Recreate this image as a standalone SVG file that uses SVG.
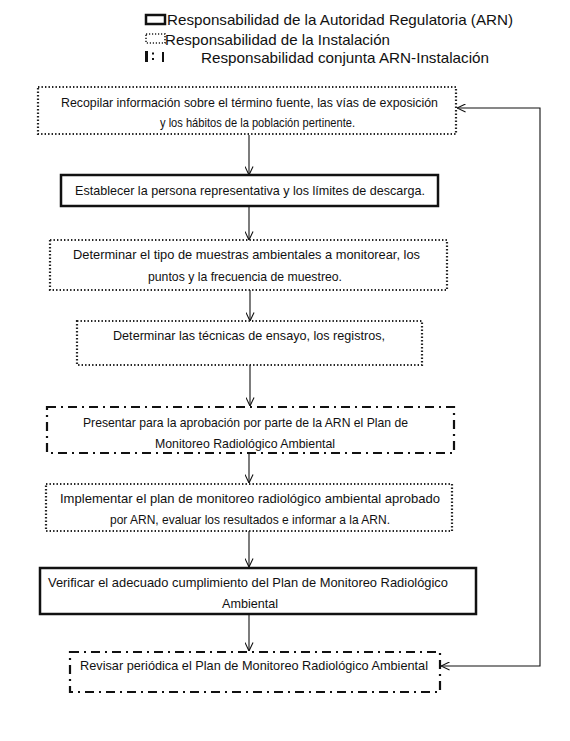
<svg xmlns="http://www.w3.org/2000/svg" width="570" height="741" viewBox="0 0 570 741">
<style>
text{font-family:"Liberation Sans",Arial,sans-serif;fill:#111}
.leg{font-size:14.5px}
.t{font-size:13.5px;text-anchor:start}
.solid{fill:#fff;stroke:#111;stroke-width:2.5}
.dot{fill:#fff;stroke:#222;stroke-width:2.2;stroke-dasharray:1.4 2.1}
.dd{fill:#fff;stroke:#111;stroke-width:2.2;stroke-dasharray:9 5 2 5}
.con{fill:none;stroke:#111;stroke-width:1.1}
</style>
<defs>
<marker id="ah" viewBox="0 0 10 10" refX="9.5" refY="5" markerWidth="9" markerHeight="9" orient="auto" markerUnits="userSpaceOnUse">
<path d="M0,0.5 L9.5,5 L0,9.5" fill="none" stroke="#111" stroke-width="1.2"/>
</marker>
<marker id="ahs" viewBox="0 0 10 10" refX="9.5" refY="5" markerWidth="9" markerHeight="9" orient="auto-start-reverse" markerUnits="userSpaceOnUse">
<path d="M0,0.5 L9.5,5 L0,9.5" fill="none" stroke="#111" stroke-width="1.2"/>
</marker>
</defs>
<rect width="570" height="741" fill="#fff"/>
<g id="legend">
<rect x="146" y="15" width="19" height="9" class="solid" stroke-width="2.5"/>
<text class="leg" x="167" y="25" textLength="346" lengthAdjust="spacingAndGlyphs">Responsabilidad de la Autoridad Regulatoria (ARN)</text>
<rect x="146" y="34" width="19" height="9" fill="none" stroke="#222" stroke-width="1.6" stroke-dasharray="1.2 1.8"/>
<text class="leg" x="165" y="45" textLength="225" lengthAdjust="spacingAndGlyphs">Responsabilidad de la Instalación</text>
<rect x="145" y="51" width="3" height="11" fill="#111"/>
<rect x="152" y="52.5" width="2" height="2" fill="#111"/>
<rect x="152" y="58" width="2" height="2" fill="#111"/>
<rect x="162" y="52" width="2" height="10" fill="#111"/>
<text class="leg" x="201" y="63" textLength="288" lengthAdjust="spacingAndGlyphs">Responsabilidad conjunta ARN-Instalación</text>
</g>
<g id="connectors">
<path class="con" d="M249,135 V175" marker-end="url(#ah)"/>
<path class="con" d="M249,207 V240" marker-end="url(#ah)"/>
<path class="con" d="M250,290 V321" marker-end="url(#ah)"/>
<path class="con" d="M250,365 V406" marker-end="url(#ah)"/>
<path class="con" d="M249,453 V483" marker-end="url(#ah)"/>
<path class="con" d="M249,531 V567" marker-end="url(#ah)"/>
<path class="con" d="M249,614 V651" marker-end="url(#ah)"/>
<path class="con" d="M441,666 H540 V108 H457" marker-start="url(#ahs)" marker-end="url(#ah)"/>
</g>
<g id="n1">
<rect x="38" y="87" width="418" height="47" class="dot"/>
<text class="t" x="61" y="107" textLength="377" lengthAdjust="spacingAndGlyphs">Recopilar información sobre el término fuente, las vías de exposición</text>
<text class="t" x="160" y="127" textLength="195" lengthAdjust="spacingAndGlyphs">y los hábitos de la población pertinente.</text>
</g>
<g id="n2">
<rect x="61" y="175" width="377" height="31" class="solid"/>
<text class="t" x="75" y="195" textLength="350" lengthAdjust="spacingAndGlyphs">Establecer la persona representativa y los límites de descarga.</text>
</g>
<g id="n3">
<rect x="50" y="240" width="397" height="50" class="dot"/>
<text class="t" x="73" y="259" textLength="347" lengthAdjust="spacingAndGlyphs">Determinar el tipo de muestras ambientales a monitorear, los</text>
<text class="t" x="148" y="281" textLength="194" lengthAdjust="spacingAndGlyphs">puntos y la frecuencia de muestreo.</text>
</g>
<g id="n4">
<rect x="77" y="321" width="345" height="44" class="dot"/>
<text class="t" x="113" y="340" textLength="272" lengthAdjust="spacingAndGlyphs">Determinar las técnicas de ensayo, los registros,</text>
</g>
<g id="n5">
<rect x="47" y="407" width="407" height="46" class="dd"/>
<text class="t" x="83" y="427" textLength="325" lengthAdjust="spacingAndGlyphs">Presentar para la aprobación por parte de la ARN el Plan de</text>
<text class="t" x="155" y="448" textLength="180" lengthAdjust="spacingAndGlyphs">Monitoreo Radiológico Ambiental</text>
</g>
<g id="n6">
<rect x="46" y="484" width="406" height="47" class="dot"/>
<text class="t" x="60" y="503" textLength="380" lengthAdjust="spacingAndGlyphs">Implementar el plan de monitoreo radiológico ambiental aprobado</text>
<text class="t" x="110" y="524" textLength="280" lengthAdjust="spacingAndGlyphs">por ARN, evaluar los resultados e informar a la ARN.</text>
</g>
<g id="n7">
<rect x="40" y="568" width="436" height="46" class="solid"/>
<text class="t" x="48" y="587" textLength="400" lengthAdjust="spacingAndGlyphs">Verificar el adecuado cumplimiento del Plan de Monitoreo Radiológico</text>
<text class="t" x="222" y="608" textLength="56" lengthAdjust="spacingAndGlyphs">Ambiental</text>
</g>
<g id="n8">
<rect x="70" y="652" width="370" height="40" class="dd"/>
<text class="t" x="80" y="670" textLength="348" lengthAdjust="spacingAndGlyphs">Revisar periódica el Plan de Monitoreo Radiológico Ambiental</text>
</g>
</svg>
